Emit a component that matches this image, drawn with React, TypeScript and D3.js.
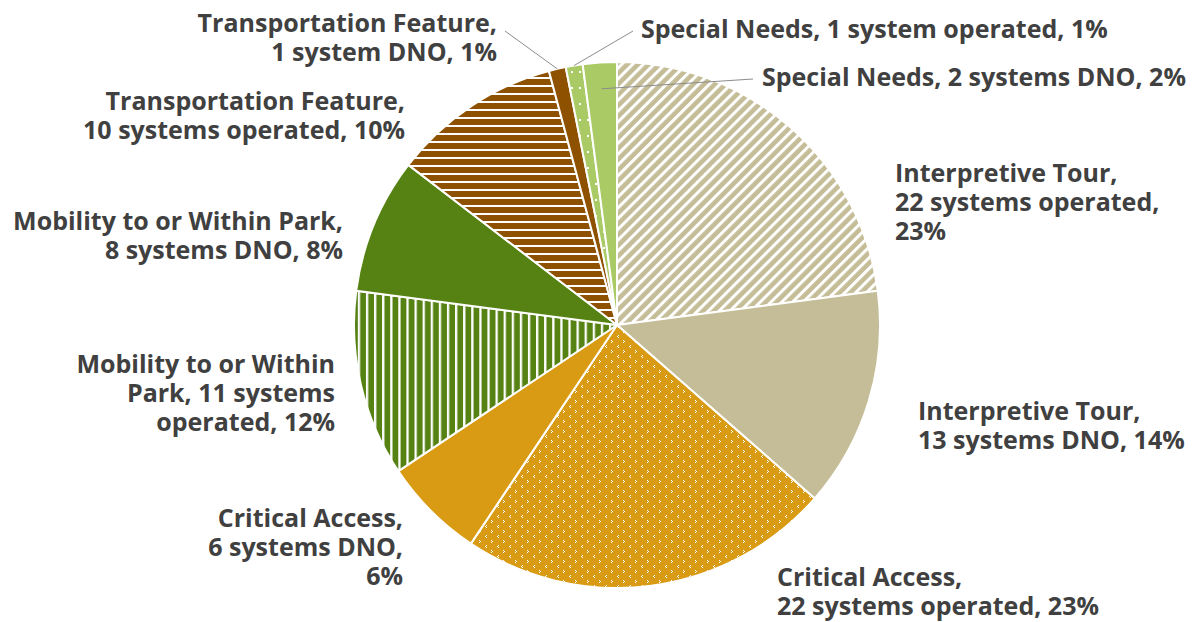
import React from "react";
import * as d3 from "d3";

// Accessibility systems by purpose and operating status
const categories = [
  "Interpretive Tour",
  "Interpretive Tour",
  "Critical Access",
  "Critical Access",
  "Mobility to or Within Park",
  "Mobility to or Within Park",
  "Transportation Feature",
  "Transportation Feature",
  "Special Needs",
  "Special Needs",
];
const statuses = ["operated", "DNO", "operated", "DNO", "operated", "DNO", "operated", "DNO", "operated", "DNO"];
const counts = [22, 13, 22, 6, 11, 8, 10, 1, 1, 2];

// words per wrapped line for each label
const wrapSpec = [[2, 3, 1], [2, 4], [2, 4], [2, 3, 1], [4, 3, 2], [5, 4], [2, 4], [2, 4], [6], [6]];

const WIDTH = 1193;
const HEIGHT = 622;
const CX = 617;
const CY = 325;
const R = 263;

const fills = ["url(#diagTan)", "#C4BD97", "url(#dotGold)", "#D99B14", "url(#vertGreen)", "#558213", "url(#horizBrown)", "#8E5100", "url(#dotLight)", "#A9CA64"];

// label placement: first baseline, anchor side
const labelLayout = [
  { x: 895, y: 182, anchor: "start" },
  { x: 918, y: 420, anchor: "start" },
  { x: 777, y: 586, anchor: "start" },
  { x: 403, y: 527, anchor: "end" },
  { x: 335, y: 373, anchor: "end" },
  { x: 343, y: 230, anchor: "end" },
  { x: 405, y: 110, anchor: "end" },
  { x: 497, y: 32, anchor: "end" },
  { x: 641, y: 38, anchor: "start" },
  { x: 762, y: 86, anchor: "start" },
];
// leader lines: label-side start point and radial fraction of the slice end
const leaders: Record<number, { x: number; y: number; k: number }> = {
  7: { x: 505, y: 31, k: 1.0 },
  8: { x: 633, y: 31, k: 1.0 },
  9: { x: 753, y: 79, k: 0.9 },
};

// whole percentages that add to 100 (largest remainder)
function roundedPercents(values: number[]): number[] {
  const total = d3.sum(values);
  const raw = values.map((v) => (v / total) * 100);
  const floors = raw.map(Math.floor);
  let left = 100 - d3.sum(floors);
  const order = d3.range(values.length).sort((a, b) => (raw[b] - floors[b]) - (raw[a] - floors[a]));
  for (const i of order) {
    if (left <= 0) break;
    floors[i] += 1;
    left -= 1;
  }
  return floors;
}

export default function App() {
  const pcts = roundedPercents(counts);
  const pie = d3.pie<number>().sort(null).value((d) => d).startAngle(0).endAngle(2 * Math.PI);
  const arcs = pie(counts);
  const arc = d3.arc<d3.PieArcDatum<number>>().innerRadius(0).outerRadius(R);

  const labelText = (i: number) => {
    const unit = counts[i] === 1 ? "system" : "systems";
    const full = `${categories[i]}, ${counts[i]} ${unit} ${statuses[i]}, ${pcts[i]}%`;
    const words = full.split(" ");
    const lines: string[] = [];
    let p = 0;
    for (const n of wrapSpec[i]) {
      lines.push(words.slice(p, p + n).join(" "));
      p += n;
    }
    return lines;
  };

  const polar = (angle: number, r: number) => [CX + r * Math.sin(angle), CY - r * Math.cos(angle)];

  return (
    <svg width={WIDTH} height={HEIGHT} style={{ position: "absolute", left: 0, top: 0, background: "#fff" }}>
      <defs>
        <pattern id="diagTan" patternUnits="userSpaceOnUse" width={7.6} height={7.6} patternTransform="rotate(45)">
          <rect width={7.6} height={7.6} fill="#C4BD97" />
          <rect x={0} width={3} height={7.6} fill="#fff" />
        </pattern>
        <pattern id="horizBrown" patternUnits="userSpaceOnUse" width={8} height={8}>
          <rect width={8} height={8} fill="#8E5100" />
          <rect y={0} width={8} height={2} fill="#fff" />
        </pattern>
        <pattern id="vertGreen" patternUnits="userSpaceOnUse" width={8.1} height={8}>
          <rect width={8.1} height={8} fill="#558213" />
          <rect x={0} width={2.3} height={8} fill="#fff" />
        </pattern>
        <pattern id="dotGold" patternUnits="userSpaceOnUse" width={12} height={10}>
          <rect width={12} height={10} fill="#D99B14" />
          <rect x={1} y={0} width={1} height={1} fill="#fff" />
          <rect x={0} y={1} width={1} height={1} fill="#fff" />
          <rect x={1} y={2} width={1} height={1} fill="#fff" />
          <rect x={6} y={5} width={1} height={1} fill="#fff" />
          <rect x={7} y={6} width={1} height={1} fill="#fff" />
          <rect x={6} y={7} width={1} height={1} fill="#fff" />
        </pattern>
        <pattern id="dotLight" patternUnits="userSpaceOnUse" width={8} height={16}>
          <rect width={8} height={16} fill="#A9CA64" />
          <rect x={2} y={2} width={2} height={2} fill="#fff" />
        </pattern>
      </defs>
      <g transform={`translate(${CX},${CY})`}>
        {arcs.map((a, i) => (
          <path key={i} d={arc(a) || ""} fill={fills[i]} stroke="#fff" strokeWidth={2} strokeLinejoin="round" />
        ))}
      </g>
      {Object.entries(leaders).map(([k, l]) => {
        const i = Number(k);
        const mid = (arcs[i].startAngle + arcs[i].endAngle) / 2;
        const [x2, y2] = polar(mid, R * l.k);
        return <line key={k} x1={l.x} y1={l.y} x2={x2} y2={y2} stroke="#8C8C8C" strokeWidth={1} />;
      })}
      <g fontFamily="'Open Sans', sans-serif" fontWeight={700} fontSize={25} fill="#404040">
        {arcs.map((a, i) => {
          const L = labelLayout[i];
          return (
            <text key={i} x={L.x} y={L.y} textAnchor={L.anchor as any}>
              {labelText(i).map((t, j) => (
                <tspan key={j} x={L.x} dy={j === 0 ? 0 : 29}>
                  {t}
                </tspan>
              ))}
            </text>
          );
        })}
      </g>
    </svg>
  );
}
